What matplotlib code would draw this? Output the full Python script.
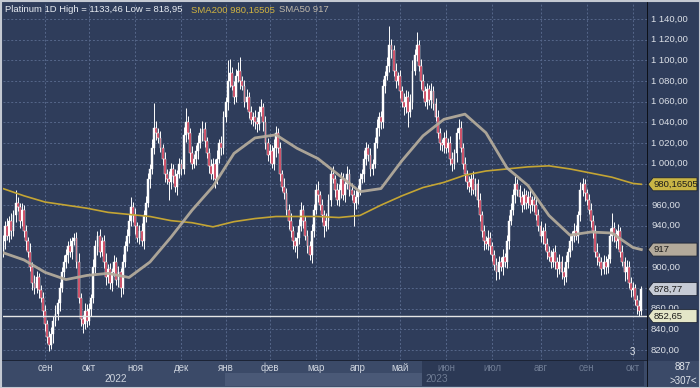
import matplotlib
matplotlib.use('Agg')
import matplotlib.pyplot as plt
from matplotlib.patches import Polygon, Rectangle
from matplotlib.transforms import IdentityTransform
import numpy as np

# ---------------- data ----------------
first_open = 915
closes = [
    925, 940, 930, 945, 935, 950, 962, 958, 945, 955,
    935, 925, 915, 900, 885, 880, 890, 878, 870, 858,
    845, 832, 825, 835, 848, 855, 865, 880, 895, 905,
    912, 920, 915, 925, 928, 905, 870, 850, 845, 858,
    848, 860, 870, 900, 920, 930, 915, 925, 905, 890,
    898, 885, 895, 905, 888, 895, 880, 905, 920, 930,
    945, 958, 950, 940, 928, 935, 925, 950, 962, 985,
    995, 1015, 1035, 1030, 1025, 1015, 1005, 990, 985, 982,
    995, 988, 978, 990, 1000, 995, 1028, 1040, 1030, 1010,
    1000, 1005, 1012, 1020, 1030, 1034, 1022, 1010, 998, 990,
    1000, 985, 1005, 1020, 1015, 1045, 1060, 1080, 1088, 1075,
    1065, 1085, 1090, 1080, 1075, 1060, 1065, 1050, 1042, 1045,
    1040, 1038, 1050, 1055, 1040, 1020, 1008, 1012, 1000, 1015,
    1030, 1015, 990, 978, 972, 955, 945, 935, 925, 920,
    928, 940, 955, 945, 930, 920, 912, 935, 955, 975,
    970, 960, 950, 940, 945, 965, 990, 985, 975, 965,
    975, 985, 970, 980, 990, 975, 970, 962, 968, 975,
    985, 990, 1005, 1015, 1008, 995, 1000, 1020, 1035, 1045,
    1040, 1075, 1085, 1095, 1115, 1110, 1090, 1080, 1085, 1070,
    1060, 1055, 1065, 1050, 1060, 1090, 1105, 1115, 1095, 1080,
    1070, 1060, 1072, 1062, 1070, 1058, 1045, 1030, 1020, 1018,
    1025, 1015, 1020, 1005, 1000, 1010, 1030, 1035, 1015, 1000,
    990, 982, 978, 985, 975, 980, 965, 950, 935, 925,
    922, 928, 920, 912, 902, 895, 905, 900, 910, 905,
    925, 945, 955, 970, 980, 975, 968, 960, 970, 962,
    968, 960, 965, 960, 950, 940, 930, 935, 922, 915,
    910, 905, 915, 905, 898, 905, 895, 890, 905, 915,
    925, 930, 935, 930, 950, 975, 980, 972, 965, 955,
    945, 935, 915, 910, 905, 898, 905, 900, 908, 930,
    938, 932, 925, 935, 915, 905, 895, 900, 885, 878,
    880, 868, 862, 858, 878.77,
]
wick_up = [
    6, 5, 8, 4, 7, 5, 13, 6, 4, 7, 5, 6, 4, 8, 5, 7, 6, 4, 5, 6,
    5, 4, 6, 7, 5, 8, 4, 6, 5, 7, 6, 5, 8, 4, 5, 6, 9, 5, 4, 7,
    6, 5, 4, 8, 6, 5, 7, 4, 6, 9, 5, 6, 4, 7, 5, 6, 4, 8, 5, 7,
    6, 10, 5, 7, 4, 6, 8, 5, 7, 6, 5, 9, 24, 6, 5, 7, 4, 6, 5, 8,
    6, 5, 7, 4, 6, 5, 8, 14, 6, 5, 7, 4, 6, 8, 5, 7, 6, 4, 5, 7,
    6, 5, 8, 4, 7, 6, 5, 20, 13, 6, 5, 7, 8, 13, 5, 6, 7, 4, 6, 5,
    7, 5, 6, 8, 4, 6, 5, 7, 6, 9, 7, 5, 6, 4, 8, 5, 6, 7, 5, 4,
    6, 7, 8, 5, 4, 6, 5, 7, 6, 5, 8, 4, 6, 5, 7, 6, 5, 8, 4, 6,
    5, 7, 6, 4, 8, 5, 6, 5, 7, 4, 6, 5, 8, 6, 4, 7, 5, 6, 8, 5,
    6, 7, 5, 8, 18.46, 6, 5, 7, 4, 6, 5, 8, 6, 5, 7, 10, 6, 12, 5, 6,
    7, 5, 6, 4, 8, 5, 6, 7, 5, 4, 6, 8, 5, 7, 6, 4, 5, 8, 6, 5,
    7, 4, 6, 5, 8, 6, 5, 7, 4, 6, 5, 8, 6, 4, 5, 7, 6, 5, 8, 4,
    6, 5, 7, 6, 8, 5, 4, 6, 7, 5, 6, 8, 4, 5, 7, 6, 5, 4, 8, 6,
    5, 7, 4, 6, 5, 8, 6, 5, 7, 4, 6, 5, 8, 6, 4, 7, 6, 5, 4, 6,
    7, 5, 6, 8, 4, 5, 7, 6, 5, 8, 14, 6, 5, 7, 4, 6, 5, 7, 6, 5,
    6, 4, 5, 6, 3,
]
wick_dn = [
    5, 7, 4, 6, 8, 5, 6, 4, 7, 5, 6, 8, 5, 4, 7, 6, 5, 8, 4, 6,
    7, 5, 6, 4, 8, 5, 6, 7, 4, 5, 6, 8, 5, 7, 4, 6, 5, 7, 9, 5,
    6, 4, 7, 5, 6, 8, 5, 4, 6, 7, 5, 6, 8, 4, 5, 7, 9, 6, 5, 4,
    7, 5, 6, 8, 4, 6, 5, 7, 6, 4, 8, 5, 6, 7, 5, 4, 6, 8, 5, 17,
    6, 7, 5, 8, 4, 6, 5, 7, 6, 8, 5, 4, 6, 7, 5, 8, 6, 4, 7, 5,
    6, 8, 5, 4, 7, 6, 5, 8, 6, 4, 7, 5, 6, 8, 4, 5, 7, 6, 4, 5,
    6, 7, 5, 4, 8, 6, 5, 7, 4, 6, 8, 5, 7, 4, 6, 5, 8, 6, 7, 5,
    11, 6, 5, 7, 4, 6, 5, 8, 6, 4, 7, 5, 6, 11, 5, 8, 6, 4, 7, 5,
    6, 8, 5, 7, 4, 6, 5, 22, 6, 7, 5, 4, 8, 6, 5, 7, 6, 4, 5, 8,
    6, 5, 7, 4, 6, 8, 5, 7, 4, 6, 5, 8, 6, 14, 5, 7, 4, 6, 5, 8,
    6, 4, 7, 5, 8, 6, 4, 5, 7, 6, 8, 5, 4, 6, 7, 5, 8, 6, 4, 5,
    7, 6, 5, 8, 4, 6, 7, 5, 6, 8, 4, 5, 7, 6, 5, 7, 6, 4, 8, 5,
    6, 7, 4, 5, 8, 6, 5, 7, 4, 6, 5, 8, 6, 7, 4, 5, 6, 8, 5, 7,
    4, 6, 5, 7, 8, 5, 6, 7, 4, 6, 5, 8, 6, 4, 7, 5, 6, 8, 5, 4,
    6, 7, 5, 8, 4, 6, 5, 7, 6, 4, 5, 8, 6, 7, 5, 4, 8, 6, 5, 7,
    6, 5, 7, 5, 4,
]
sma_idx = [0, 10, 20, 30, 40, 50, 60, 70, 80, 90, 100, 110, 120, 130, 140, 150,
           160, 170, 180, 190, 200, 210, 220, 230, 240, 250, 260, 270, 280, 290, 300, 304]
sma200 = [976, 969, 963, 960, 957, 953, 951, 949, 945, 943, 939, 944, 947, 949, 949, 949,
          948, 950, 960, 969, 977, 982, 989, 993, 995, 997, 998, 995, 991, 987, 981, 980.16505]
sma50 = [914, 907, 895, 888, 892, 894, 890, 905, 929, 955, 978, 1010, 1025, 1028, 1015, 1005,
         989, 973, 976, 1003, 1027, 1043, 1048, 1030, 996, 979, 950, 931, 934, 933, 919, 917]
month_idx = [20, 41, 63, 85, 106, 127, 149, 169, 189, 211, 233, 256, 278, 300]
month_labels = ['сен', 'окт', 'ноя', 'дек', 'янв', 'фев', 'мар', 'апр', 'май',
                'июн', 'июл', 'авг', 'сен', 'окт']
y_ticks = list(range(820, 1141, 20))
level_line = 852.65
last_price = 878.77
sma200_last = 980.16505
sma50_last = 917
title_text = 'Platinum 1D High = 1133,46 Low = 818,95'

# ---------------- styling ----------------
W, H = 700, 388
BG = '#2f3d5b'
GRID = '#56678a'
SMA200_C = '#c4a534'
SMA50_C = '#b3aa9b'
BEAR = '#c0203f'
FONT = 'Liberation Sans'

fig = plt.figure(figsize=(W / 100, H / 100), dpi=100, facecolor=BG)
ax = fig.add_axes([3 / W, (H - 360) / H, 644 / W, 357 / H])
ax.set_facecolor(BG)
ax.set_xlim(0, 306.7)
ax.set_ylim(810.2, 1155.5)
for s in ax.spines.values():
    s.set_visible(False)
ax.set_xticks([])
ax.set_yticks([])

for v in y_ticks:
    ax.axhline(v, color=GRID, lw=0.7, ls=(0, (2, 2)), zorder=1)
for m in month_idx:
    ax.axvline(m, color=GRID, lw=0.7, ls=(0, (2, 2)), zorder=1)

# candles
n = len(closes)
idx = np.arange(n)
c = np.array(closes, dtype=float)
o = np.array([first_open] + closes[:-1], dtype=float)
hi = np.maximum(o, c) + np.array(wick_up, dtype=float)
lo = np.minimum(o, c) - np.array(wick_dn, dtype=float)
up = c >= o
ax.vlines(idx, lo, hi, color='white', lw=0.7, zorder=3)
bh = np.maximum(np.abs(c - o), 1.0)
ax.bar(idx[up], bh[up], bottom=o[up], width=0.9, color='white',
       edgecolor='white', lw=0.3, zorder=4)
ax.bar(idx[~up], bh[~up], bottom=c[~up], width=0.9, color=BEAR,
       edgecolor='white', lw=0.35, zorder=4)

# moving averages
ax.plot(sma_idx, sma200, color=SMA200_C, lw=1.2, zorder=5)
ax.plot(sma_idx, sma50, color=SMA50_C, lw=2.0, zorder=5, alpha=0.95)
ax.axhline(level_line, color='#e6e6e6', lw=1.0, zorder=6)

# "3" marker
ax.text(299.5, 813.5, '3', color='#e0e4ea', fontsize=7, ha='center', va='bottom',
        family=FONT, zorder=7)

# ---------------- figure-level decorations ----------------
def ypix(p):
    return ax.transData.transform((0, p))[1]

def rect(x0, ytop, x1, ybot, color, z=1):
    r = Rectangle((x0, H - ybot), x1 - x0, ybot - ytop, facecolor=color,
                  edgecolor='none', lw=0, transform=IdentityTransform(), zorder=z)
    fig.add_artist(r)

# bottom axis band
rect(0, 360, 647, 388, '#3b4a68', z=1)
rect(225, 373, 422, 386, '#4a5977', z=2)
rect(422, 361, 644, 386, '#2c3955', z=2)
rect(0, 359.5, 647, 361, '#1c2436', z=3)
# right axis separator
rect(646.5, 0, 648, 388, '#0d1119', z=3)
# bottom right box
rect(648, 361, 700, 388, '#3b4a68', z=2)
rect(670, 374.5, 696, 375.3, '#aab2c0', z=3)
fig.text(683 / W, 1 - 367 / H, '887', color='#e2e6ec', fontsize=7, ha='center',
         va='center', family=FONT)
fig.text(683 / W, 1 - 380.5 / H, '>307<', color='#e2e6ec', fontsize=7, ha='center',
         va='center', family=FONT)

# month labels
for m, lab in zip(month_idx, month_labels):
    xp = ax.transData.transform((m, 0))[0]
    col = '#cdd3dd' if m < 200 else '#6e7b93'
    fig.text(xp / W, 1 - 368 / H, lab, color=col, fontsize=7, ha='center', va='center',
             family=FONT, zorder=5)
fig.text(116 / W, 1 - 379.5 / H, '2022', color='#cdd3dd', fontsize=7.3, ha='center',
         va='center', family=FONT, zorder=5)
fig.text(437 / W, 1 - 379.5 / H, '2023', color='#6e7b93', fontsize=7.3, ha='center',
         va='center', family=FONT, zorder=5)

# right axis labels (those hidden behind the value tags are not drawn)
def fmt(v):
    s = f'{v:,.2f}'
    return s.replace(',', ' ').replace('.', ',')

tag_vals = [sma200_last, sma50_last, last_price, level_line]
for v in y_ticks:
    if any(abs(v - t) < 4 for t in tag_vals):
        continue
    fig.text(651 / W, ypix(v) / H, fmt(v), color='#dde1e8', fontsize=6.8,
             ha='left', va='center', family=FONT, zorder=5)

def tag(p, label, fc, tc='#1b1b1b'):
    y = ypix(p)
    pts = [(648, y), (653, y + 6.5), (697, y + 6.5), (697, y - 6.5), (653, y - 6.5)]
    fig.add_artist(Polygon(pts, closed=True, facecolor=fc, edgecolor='#1e2535', lw=0.6,
                           transform=IdentityTransform(), zorder=8))
    fig.text(653.5 / W, y / H, label, color=tc, fontsize=6.8, ha='left', va='center',
             family=FONT, zorder=9)

tag(sma200_last, '980,16505', '#c9b545')
tag(sma50_last, '917', '#b3aa9b')
tag(last_price, '878,77', '#c6cbd5')
tag(level_line, '852,65', '#e4e6c8')

# top legend
fig.text(5 / W, 1 - 10 / H, title_text, color='#e8ecf2', fontsize=6.8, ha='left',
         va='center', family=FONT, zorder=9)
fig.text(191 / W, 1 - 10 / H, 'SMA200 980,16505', color='#d2b440', fontsize=6.8,
         ha='left', va='center', family=FONT, zorder=9)
fig.text(279 / W, 1 - 10 / H, 'SMA50 917', color='#c2baac', fontsize=6.8,
         ha='left', va='center', family=FONT, zorder=9)

# outer frame
fig.add_artist(Rectangle((0.5, 0.5), W - 1, H - 1, facecolor='none', edgecolor='#c4c9d2',
                         lw=1.5, transform=IdentityTransform(), zorder=20))

fig.savefig('out.png', dpi=100, facecolor=BG)
